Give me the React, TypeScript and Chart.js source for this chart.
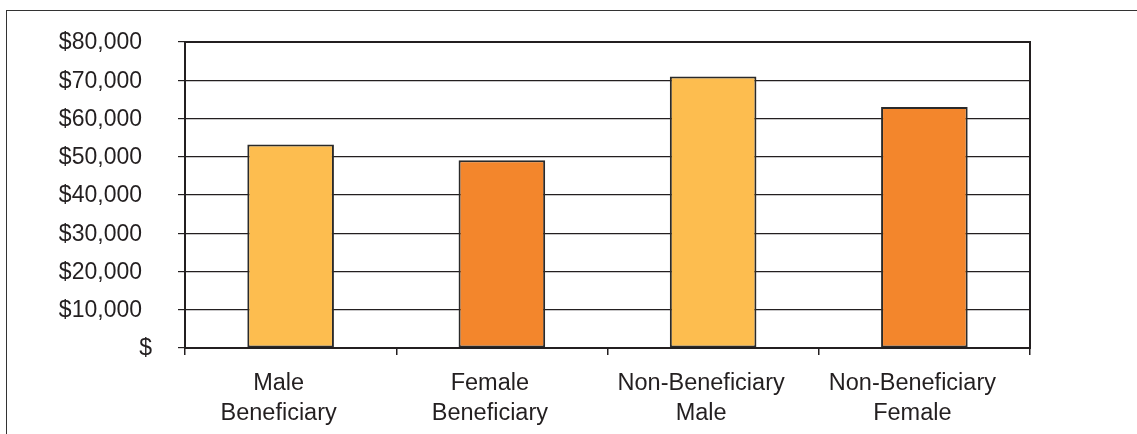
import React, { useEffect, useRef } from "react";
import { Chart, registerables } from "chart.js";

Chart.register(...registerables);

const categories: string[][] = [
  ["Male", "Beneficiary"],
  ["Female", "Beneficiary"],
  ["Non-Beneficiary", "Male"],
  ["Non-Beneficiary", "Female"],
];
const values: number[] = [53200, 49100, 71000, 63000];
const barColors: string[] = ["#FDBD4F", "#F3862C", "#FDBD4F", "#F3862C"];
const yMin = 0;
const yMax = 80000;
const yStep = 10000;

const fmtY = (v: number) => (v === 0 ? "$" : "$" + v.toLocaleString("en-US"));

const FONT = '"Liberation Sans", Arial, sans-serif';
const TEXT = "#231f20";
const LINE = "#231f20";

export default function App() {
  const ref = useRef<HTMLCanvasElement | null>(null);

  useEffect(() => {
    if (!ref.current) return;
    const yLabelPlugin = {
      id: "yLabels",
      afterDraw(chart: any) {
        const { ctx, chartArea } = chart;
        const y = chart.scales.y;
        ctx.save();
        ctx.font = `23px ${FONT}`;
        ctx.fillStyle = TEXT;
        ctx.textAlign = "right";
        ctx.textBaseline = "middle";
        for (const t of y.ticks) {
          const py = y.getPixelForValue(t.value);
          const x = t.value === 0 ? chartArea.left - 33 : chartArea.left - 43;
          ctx.fillText(fmtY(t.value), x, py + 1);
        }
        ctx.strokeStyle = LINE;
        ctx.lineWidth = 2;
        ctx.strokeRect(chartArea.left, chartArea.top, chartArea.right - chartArea.left, chartArea.bottom - chartArea.top);
        ctx.restore();
      },
    };

    const chart = new Chart(ref.current, {
      type: "bar",
      data: {
        labels: categories,
        datasets: [
          {
            data: values,
            backgroundColor: barColors,
            borderColor: "#2a2a2a",
            borderWidth: 2,
            borderSkipped: false,
            categoryPercentage: 1,
            barPercentage: 0.41,
          },
        ],
      },
      options: {
        animation: false,
        responsive: false,
        maintainAspectRatio: false,
        layout: { padding: { top: 42, right: 107, left: 0, bottom: 0 } },
        plugins: { legend: { display: false }, tooltip: { enabled: false } },
        scales: {
          x: {
            offset: true,
            grid: {
              display: true,
              offset: true,
              drawOnChartArea: false,
              drawTicks: true,
              tickLength: 7,
              color: LINE,
              lineWidth: 1.5,
            },
            border: { display: true, color: LINE, width: 2 },
            ticks: {
              color: TEXT,
              font: { family: FONT, size: 23.5, lineHeight: "30px" } as any,
              padding: 14,
              labelOffset: -12,
              maxRotation: 0,
              autoSkip: false,
            },
            afterFit(scale: any) {
              scale.height = 86;
            },
          },
          y: {
            min: yMin,
            max: yMax,
            grid: {
              color: LINE,
              lineWidth: 1.2,
              drawTicks: true,
              tickLength: 7,
            },
            border: { display: true, color: LINE, width: 2 },
            ticks: {
              stepSize: yStep,
              display: false,
              callback: (v: any) => fmtY(Number(v)),
            },
            afterFit(scale: any) {
              scale.width = 185;
            },
          },
        },
      },
      plugins: [yLabelPlugin],
    });
    return () => chart.destroy();
  }, []);

  return (
    <div style={{ position: "fixed", left: 0, top: 0, width: 1137, height: 434, background: "#fff", overflow: "hidden" }}>
      <div
        style={{
          position: "absolute",
          left: 6,
          top: 10,
          width: 1200,
          height: 500,
          borderLeft: "1.5px solid #333",
          borderTop: "1.5px solid #333",
        }}
      />
      <canvas ref={ref} width={1137} height={434} style={{ position: "absolute", left: 0, top: 0, width: 1137, height: 434 }} />
    </div>
  );
}
